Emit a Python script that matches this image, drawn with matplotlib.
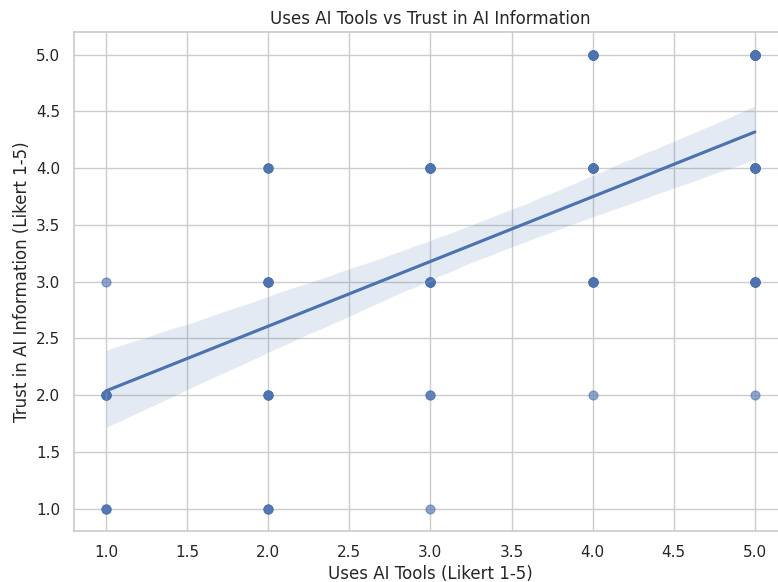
import numpy as np
import pandas as pd
import matplotlib
matplotlib.use("Agg")
import matplotlib.pyplot as plt
import seaborn as sns

# survey answers (Likert 1-5), one entry per respondent
uses_ai = ([1] * 10 + [2] * 17 + [3] * 19 + [4] * 25 + [5] * 35)
trust_ai = ([1, 1, 1, 2, 2, 2, 2, 2, 2, 3] +
            [1, 1, 1, 2, 2, 2, 2, 3, 3, 3, 3, 3, 3, 4, 4, 4, 4] +
            [1, 2, 2, 3, 3, 3, 3, 3, 3, 3, 3, 4, 4, 4, 4, 4, 4, 4, 4] +
            [2, 3, 3, 3, 3, 3, 3, 4, 4, 4, 4, 4, 4, 4, 4, 4, 4,
             5, 5, 5, 5, 5, 5, 5, 5] +
            [2, 3, 3, 3, 3, 3, 3, 3, 3, 4, 4, 4, 4, 4, 4, 4, 4, 4, 4,
             5, 5, 5, 5, 5, 5, 5, 5, 5, 5, 5, 5, 5, 5, 5, 5])

df = pd.DataFrame({"uses": uses_ai, "trust": trust_ai})

sns.set_theme(style="whitegrid")
fig, ax = plt.subplots(figsize=(7.78, 5.82), dpi=100)
sns.regplot(data=df, x="uses", y="trust", ax=ax, seed=0,
            scatter_kws={"alpha": 0.6, "s": 40})
ax.set_title("Uses AI Tools vs Trust in AI Information")
ax.set_xlabel("Uses AI Tools (Likert 1-5)")
ax.set_ylabel("Trust in AI Information (Likert 1-5)")
# the original image is cropped on the right, so the axes run past the edge
fig.subplots_adjust(left=0.0945, right=1.012, top=0.945, bottom=0.087)
fig.savefig("out.png")
